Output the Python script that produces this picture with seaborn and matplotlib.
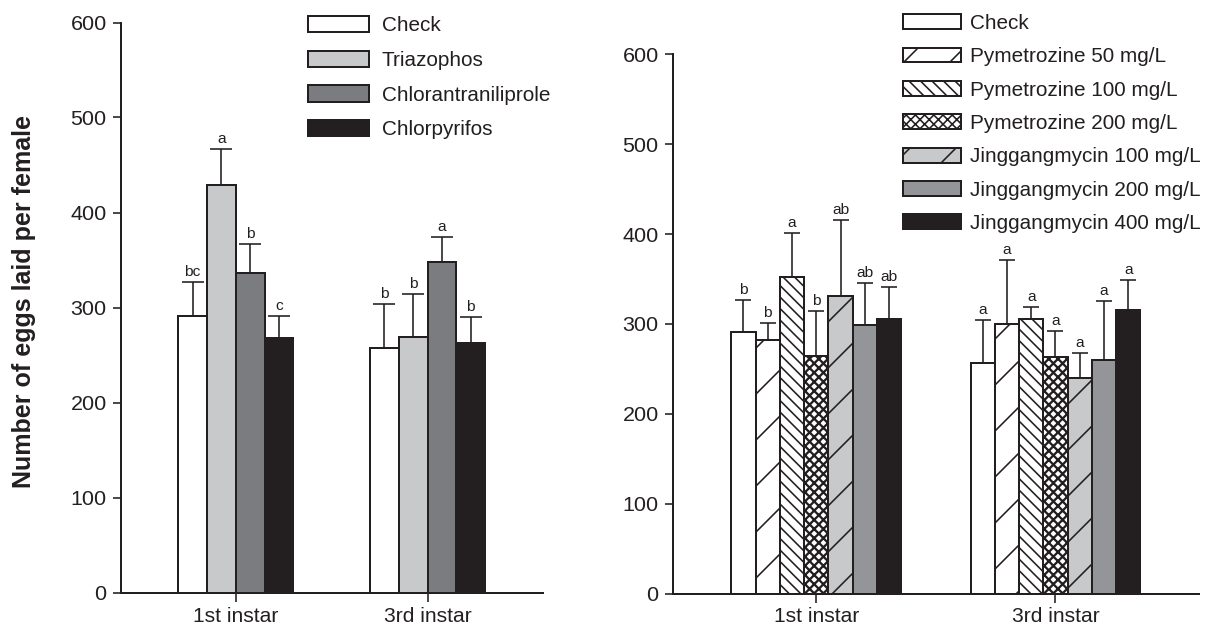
import numpy as np
import pandas as pd
import matplotlib
matplotlib.use('Agg')
import matplotlib.pyplot as plt
import seaborn as sns
from matplotlib.patches import Patch

# data
stages = ['1st instar', '3rd instar']

left_treatments = ['Check', 'Triazophos', 'Chlorantraniliprole', 'Chlorpyrifos']
left_mean_1st = [291, 429, 336, 268]
left_mean_3rd = [257, 269, 348, 263]
left_err_1st = [36, 38, 31, 23]
left_err_3rd = [47, 45, 26, 27]
left_letters_1st = ['bc', 'a', 'b', 'c']
left_letters_3rd = ['b', 'b', 'a', 'b']

right_treatments = ['Check', 'Pymetrozine 50 mg/L', 'Pymetrozine 100 mg/L', 'Pymetrozine 200 mg/L',
                    'Jinggangmycin 100 mg/L', 'Jinggangmycin 200 mg/L', 'Jinggangmycin 400 mg/L']
right_mean_1st = [291, 282, 352, 264, 331, 299, 305]
right_mean_3rd = [257, 300, 305, 263, 240, 260, 315]
right_err_1st = [36, 19, 49, 50, 85, 46, 36]
right_err_3rd = [47, 71, 14, 29, 28, 65, 34]
right_letters_1st = ['b', 'b', 'a', 'b', 'ab', 'ab', 'ab']
right_letters_3rd = ['a', 'a', 'a', 'a', 'a', 'a', 'a']

INK = '#231f20'
left_colors = ['#ffffff', '#c8c9cb', '#7b7c80', INK]
left_hatches = ['', '', '', '']
right_colors = ['#ffffff', '#ffffff', '#ffffff', '#ffffff', '#c8c9cb', '#939598', INK]
right_hatches = ['', '/', '\\\\\\\\', 'xxxxx', '/', '', '']

# higher dpi -> wider hatch spacing; sizes below are given in pixels
DPI = 138
W, H = 1218, 630


def pt(px):
    return px * 72 / DPI


sns.set_theme(style='ticks')
plt.rcParams['font.family'] = ['Liberation Sans', 'DejaVu Sans']
plt.rcParams['hatch.color'] = INK
plt.rcParams['hatch.linewidth'] = pt(1.6)


def thicken(patch, h):
    # the checkered fill needs heavier hatch lines
    if h.startswith('x') and hasattr(patch, 'set_hatch_linewidth'):
        patch.set_hatch_linewidth(pt(2.3))


def make_df(treatments, m1, m3, e1, e3, l1, l3):
    rows = []
    for i, t in enumerate(treatments):
        rows.append({'stage': stages[0], 'treatment': t, 'eggs': m1[i], 'se': e1[i], 'letter': l1[i]})
        rows.append({'stage': stages[1], 'treatment': t, 'eggs': m3[i], 'se': e3[i], 'letter': l3[i]})
    return pd.DataFrame(rows)


def draw_panel(ax, df, treatments, colors, hatches, width, cap_px):
    sns.barplot(data=df, x='stage', y='eggs', hue='treatment', hue_order=treatments,
                order=stages, palette=colors, saturation=1, width=width, errorbar=None,
                edgecolor=INK, linewidth=pt(2), legend=False, ax=ax)
    for cont, t, h in zip(ax.containers, treatments, hatches):
        sub = df[df['treatment'] == t].set_index('stage').loc[stages]
        xs = [b.get_x() + b.get_width() / 2 for b in cont]
        for b in cont:
            b.set_hatch(h)
            thicken(b, h)
        ys = sub['eggs'].values
        se = sub['se'].values
        ax.errorbar(xs, ys, yerr=[np.zeros_like(se), se], fmt='none', ecolor=INK,
                    elinewidth=pt(1.6), capsize=pt(cap_px), capthick=pt(1.6), zorder=1)
        for x, y, e, lab in zip(xs, ys, se, sub['letter'].values):
            ax.annotate(lab, (x, y + e), xytext=(0, pt(3)), textcoords='offset points',
                        ha='center', va='bottom', fontsize=pt(15.5), color=INK)
    ax.set_xlim(-0.6, 1.6)
    ax.set_ylim(0, 600)
    ax.set_yticks(range(0, 601, 100))
    ax.set_xlabel('')
    ax.set_ylabel('')
    sns.despine(ax=ax)
    for s in ['left', 'bottom']:
        ax.spines[s].set_linewidth(pt(2))
        ax.spines[s].set_color(INK)
    ax.tick_params(axis='y', length=pt(8), width=pt(1.6), color=INK, labelsize=pt(21.5),
                   labelcolor=INK, pad=pt(6))
    ax.tick_params(axis='x', length=pt(9), width=pt(1.6), color=INK, labelsize=pt(21),
                   labelcolor=INK, pad=pt(5))


fig = plt.figure(figsize=(W / DPI, H / DPI), dpi=DPI)
ax1 = fig.add_axes([120.7 / W, 1 - 592.5 / H, 422 / W, 570 / H])
ax2 = fig.add_axes([672.7 / W, 1 - 593.5 / H, 526.3 / W, 539.2 / H])

df_left = make_df(left_treatments, left_mean_1st, left_mean_3rd, left_err_1st, left_err_3rd,
                  left_letters_1st, left_letters_3rd)
df_right = make_df(right_treatments, right_mean_1st, right_mean_3rd, right_err_1st, right_err_3rd,
                   right_letters_1st, right_letters_3rd)

draw_panel(ax1, df_left, left_treatments, left_colors, left_hatches, 0.6, 10.8)
draw_panel(ax2, df_right, right_treatments, right_colors, right_hatches, 0.71, 7.8)

ax1.set_ylabel('Number of eggs laid per female', fontsize=pt(25), fontweight='bold', color=INK)
ax1.yaxis.set_label_coords(-0.20, 0.51)

h1 = [Patch(facecolor=c, edgecolor=INK, hatch=h, linewidth=pt(2), label=t)
      for t, c, h in zip(left_treatments, left_colors, left_hatches)]
fig.legend(handles=h1, loc='upper left', bbox_to_anchor=(308.3 / W, 1 - 16 / H),
           frameon=False, fontsize=pt(20.8), handlelength=2.93, handleheight=0.82,
           handletextpad=0.6, labelspacing=0.74, borderpad=0, borderaxespad=0, labelcolor=INK)

h2 = [Patch(facecolor=c, edgecolor=INK, hatch=h, linewidth=pt(2), label=t)
      for t, c, h in zip(right_treatments, right_colors, right_hatches)]
for p, h in zip(h2, right_hatches):
    thicken(p, h)
fig.legend(handles=h2, loc='upper left', bbox_to_anchor=(902.7 / W, 1 - 14 / H),
           frameon=False, fontsize=pt(20.8), handlelength=2.8, handleheight=0.72,
           handletextpad=0.45, labelspacing=0.69, borderpad=0, borderaxespad=0, labelcolor=INK)

fig.savefig('out.png', dpi=DPI)
